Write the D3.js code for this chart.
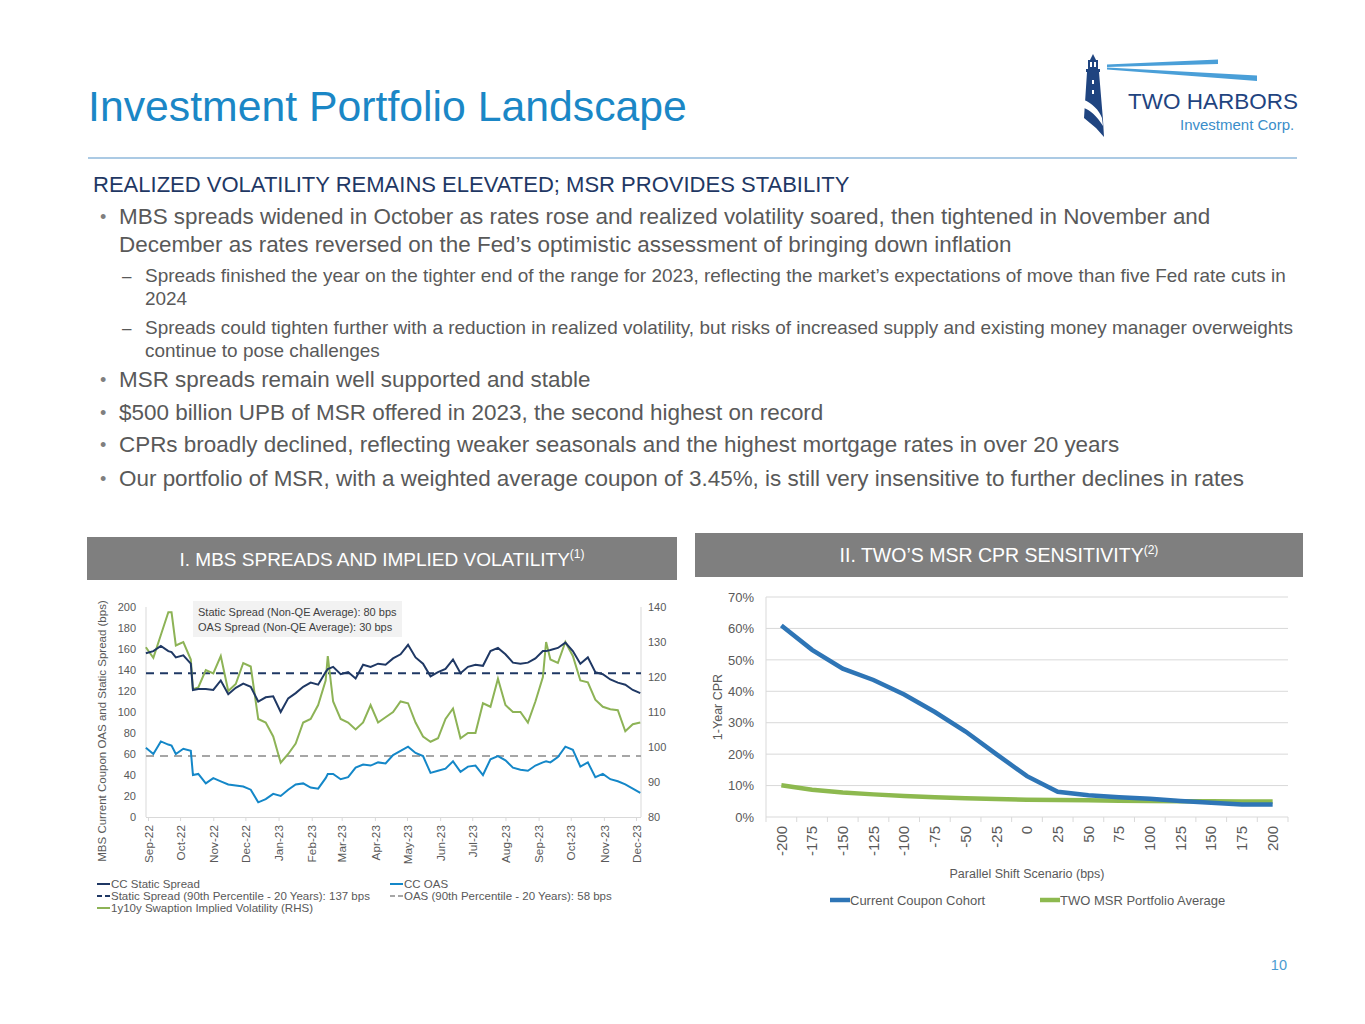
<!DOCTYPE html>
<html><head><meta charset="utf-8">
<script src="https://cdn.jsdelivr.net/npm/d3@7"></script>
<style>
html,body{margin:0;padding:0;background:#fff;}
svg{display:block;}
text{font-family:"Liberation Sans",Arial,sans-serif;}
</style></head>
<body>
<svg id="slide" width="1365" height="1024"></svg>
<script>
// ---------------- DATA ----------------
const dates = ["2022-08-30","2022-09-06","2022-09-13","2022-09-20","2022-09-23","2022-09-27","2022-10-04","2022-10-11","2022-10-13","2022-10-18","2022-10-25","2022-11-01","2022-11-08","2022-11-15","2022-11-22","2022-11-29","2022-12-06","2022-12-13","2022-12-20","2022-12-27","2023-01-03","2023-01-10","2023-01-17","2023-01-24","2023-01-31","2023-02-07","2023-02-14","2023-02-16","2023-02-21","2023-02-28","2023-03-07","2023-03-14","2023-03-21","2023-03-28","2023-04-04","2023-04-11","2023-04-18","2023-04-25","2023-05-02","2023-05-09","2023-05-16","2023-05-23","2023-05-30","2023-06-06","2023-06-13","2023-06-20","2023-06-27","2023-07-04","2023-07-11","2023-07-18","2023-07-25","2023-08-01","2023-08-08","2023-08-15","2023-08-22","2023-08-29","2023-09-05","2023-09-08","2023-09-12","2023-09-19","2023-09-26","2023-10-03","2023-10-10","2023-10-17","2023-10-24","2023-10-31","2023-11-07","2023-11-14","2023-11-21","2023-11-28","2023-12-05"];
const ccStaticSpread = [156,158,163,158,157,152,154,146,121,122,122,121,130,117,123,127,124,110,114,115,100,113,118,124,128,126,138,141,143,136,138,132,145,143,146,145,151,155,164,152,146,134,138,141,150,137,143,145,144,158,161,155,147,146,147,151,158,158,159,161,166,158,146,152,138,136,131,128,126,121,118];
const ccOAS = [66,60,72,69,68,60,65,63,40,41,32,37,34,31,30,29,26,14,17,22,20,26,31,32,28,27,37,41,41,36,38,47,50,49,52,51,59,63,67,61,58,42,44,46,53,43,48,49,40,55,58,54,47,45,44,49,52,53,52,57,67,64,48,52,38,41,36,34,31,27,23];
const swaptionVol = [128.5,125.5,132,138.5,138.5,129,130,125,116.5,117,122,121,126,116,118,124,123,108,107,103,95.5,98,101,107,108,112,119,126,113,108,107,105,107,112,107,108.5,110,113,112.5,107,103,101.5,102.5,108,111,102.5,104,104,112.5,111.5,119.5,112,110,110,107,113,120,130,125,124,130,126,119,118.5,113.5,111.5,110.8,110.5,104.5,106.5,107];
const staticP90 = 137;
const oasP90 = 58;
const leftTicks = [0,20,40,60,80,100,120,140,160,180,200];
const rightTicks = [80,90,100,110,120,130,140];

const shiftScenarios = ["-200","-175","-150","-125","-100","-75","-50","-25","0","25","50","75","100","125","150","175","200"];
const currentCouponCPR = [60.9,53.2,47.2,43.6,39.0,33.4,27.2,20.0,13.0,8.0,6.9,6.3,5.8,5.1,4.5,4.0,4.0];
const msrPortfolioCPR = [10.1,8.7,7.8,7.2,6.7,6.3,6.0,5.7,5.5,5.4,5.3,5.2,5.1,5.0,5.0,4.9,4.9];
const cprTicks = [0,10,20,30,40,50,60,70];

// ---------------- SLIDE ----------------
const svg = d3.select("#slide");
const BLUE_T = "#1B87C6", NAVY = "#1F3864", GREY_T = "#595959";

// fit a group of texts so that a reference line spans the wanted width
function fitGroup(sel, refNode, width){
  const w = refNode.getComputedTextLength();
  const k = width / w;
  sel.each(function(){
    const s = parseFloat(d3.select(this).attr("font-size"));
    d3.select(this).attr("font-size", (s*k).toFixed(2));
  });
}

// logo
const logo = svg.append("g");
logo.append("path").attr("d","M1107,64.5 L1218,59.5 L1218,64 L1107,67 Z").attr("fill","#4A9FD8");
logo.append("path").attr("d","M1107,67.5 L1257,75.5 L1257,81 L1107,69.5 Z").attr("fill","#4A9FD8");
logo.append("path").attr("d","M1093,54 L1096,60 L1090,60 Z").attr("fill","#1F4480");
logo.append("rect").attr("x",1088).attr("y",60).attr("width",10).attr("height",9).attr("fill","#1F4480");
logo.append("rect").attr("x",1086).attr("y",69).attr("width",14).attr("height",3).attr("fill","#1F4480");
logo.append("path").attr("d","M1087,72 L1099,72 L1103,120 L1104,137 L1096,128 L1084,118 Z").attr("fill","#1F4480");
logo.append("path").attr("d","M1084,100 C1092,103 1099,110 1102,118 L1103,126 C1097,116 1090,110 1084,108 Z").attr("fill","#fff");
logo.append("rect").attr("x",1090).attr("y",62).attr("width",2).attr("height",5).attr("fill","#fff");
logo.append("rect").attr("x",1094).attr("y",62).attr("width",2).attr("height",5).attr("fill","#fff");
logo.append("rect").attr("x",1092).attr("y",80).attr("width",2).attr("height",4).attr("fill","#fff");
logo.append("rect").attr("x",1092).attr("y",90).attr("width",2).attr("height",4).attr("fill","#fff");
logo.append("text").attr("x",1128).attr("y",109).attr("font-family","Lato").attr("font-size",22.5).attr("fill","#1F4480").text("TWO HARBORS");
logo.append("text").attr("x",1180).attr("y",130).attr("font-family","Lato").attr("font-size",15).attr("fill","#3A8DC9").text("Investment Corp.");

// title
const title = svg.append("text").attr("x",88).attr("y",121).attr("font-size",40).attr("fill",BLUE_T).text("Investment Portfolio Landscape");
fitGroup(title, title.node(), 599);
svg.append("line").attr("x1",88).attr("x2",1297).attr("y1",158).attr("y2",158).attr("stroke","#8FB8DB").attr("stroke-width",1.5);

const sub = svg.append("text").attr("x",93).attr("y",192).attr("font-size",20).attr("fill",NAVY).text("REALIZED VOLATILITY REMAINS ELEVATED; MSR PROVIDES STABILITY");
fitGroup(sub, sub.node(), 757);

const mainLines = [
  {t:"MBS spreads widened in October as rates rose and realized volatility soared, then tightened in November and", y:224, bullet:true},
  {t:"December as rates reversed on the Fed’s optimistic assessment of bringing down inflation", y:252},
  {t:"MSR spreads remain well supported and stable", y:387, bullet:true},
  {t:"$500 billion UPB of MSR offered in 2023, the second highest on record", y:420, bullet:true},
  {t:"CPRs broadly declined, reflecting weaker seasonals and the highest mortgage rates in over 20 years", y:452, bullet:true},
  {t:"Our portfolio of MSR, with a weighted average coupon of 3.45%, is still very insensitive to further declines in rates", y:486, bullet:true}
];
const subLines = [
  {t:"Spreads finished the year on the tighter end of the range for 2023, reflecting the market’s expectations of move than five Fed rate cuts in", y:282, dash:true},
  {t:"2024", y:305},
  {t:"Spreads could tighten further with a reduction in realized volatility, but risks of increased supply and existing money manager overweights", y:334, dash:true},
  {t:"continue to pose challenges", y:357}
];
const mainSel = svg.append("g").selectAll("text").data(mainLines).join("text")
  .attr("x",119).attr("y",d=>d.y).attr("font-size",20).attr("fill",GREY_T).text(d=>d.t);
fitGroup(mainSel, mainSel.nodes()[0], 1092);
svg.append("g").selectAll("text").data(mainLines.filter(d=>d.bullet)).join("text")
  .attr("x",100).attr("y",d=>d.y-1).attr("font-size",18).attr("fill","#7F7F7F").text("•");
const subSel = svg.append("g").selectAll("text").data(subLines).join("text")
  .attr("x",145).attr("y",d=>d.y).attr("font-size",16).attr("fill",GREY_T).text(d=>d.t);
fitGroup(subSel, subSel.nodes()[0], 1142);
svg.append("g").selectAll("text").data(subLines.filter(d=>d.dash)).join("text")
  .attr("x",122).attr("y",d=>d.y).attr("font-size",17).attr("fill",GREY_T).text("–");

// header boxes
function header(x,y,w,h,label,sup,fs){
  svg.append("rect").attr("x",x).attr("y",y).attr("width",w).attr("height",h).attr("fill","#7F7F7F");
  const t = svg.append("text").attr("x",x+w/2).attr("y",y+h/2+7).attr("text-anchor","middle").attr("font-size",fs).attr("fill","#fff");
  t.append("tspan").text(label);
  t.append("tspan").attr("dy",-8).attr("font-size",12).text(sup);
}
header(87,537,590,43,"I. MBS SPREADS AND IMPLIED VOLATILITY","(1)",19);
header(695,533,608,44,"II. TWO’S MSR CPR SENSITIVITY","(2)",19.5);

// ---------------- LEFT CHART ----------------
const parse = d3.timeParse("%Y-%m-%d");
const dts = dates.map(parse);
const xL = d3.scaleTime().domain([new Date(2022,8,1), new Date(2023,11,1)]).range([148,636]);
const yL = d3.scaleLinear().domain([0,200]).range([817,607]);
const yR = d3.scaleLinear().domain([80,140]).range([817,607]);
const L = svg.append("g");
const AX = "#D9D9D9", TXT = "#595959";

L.append("line").attr("x1",146).attr("x2",146).attr("y1",607).attr("y2",817).attr("stroke",AX);
L.append("line").attr("x1",641).attr("x2",641).attr("y1",607).attr("y2",817).attr("stroke",AX);

const xAxL = L.append("g").attr("transform","translate(0,817)")
  .call(d3.axisBottom(xL).ticks(d3.timeMonth.every(1)).tickFormat(d3.timeFormat("%b-%y")).tickSize(4).tickSizeOuter(0));
xAxL.select(".domain").attr("stroke",AX).attr("d","M146,0.5H641");
xAxL.selectAll(".tick line").attr("stroke",AX);
xAxL.selectAll(".tick text").attr("transform","rotate(-90)").attr("text-anchor","end")
  .attr("x",-8).attr("y",0).attr("dy","0.35em").attr("font-size",11.8).attr("fill",TXT).attr("font-family","Liberation Sans");

const yAxL = L.append("g").attr("transform","translate(146,0)").call(d3.axisLeft(yL).tickValues(leftTicks).tickSize(0).tickPadding(10));
yAxL.select(".domain").remove();
yAxL.selectAll("text").attr("font-size",11).attr("fill",TXT).attr("font-family","Liberation Sans");
const yAxR = L.append("g").attr("transform","translate(641,0)").call(d3.axisRight(yR).tickValues(rightTicks).tickSize(0).tickPadding(7));
yAxR.select(".domain").remove();
yAxR.selectAll("text").attr("font-size",11).attr("fill",TXT).attr("font-family","Liberation Sans");

L.append("text").attr("transform","translate(106,731) rotate(-90)").attr("text-anchor","middle").attr("font-size",11.5).attr("fill",TXT)
  .text("MBS Current Coupon OAS and Static Spread (bps)");

// reference lines
L.append("line").attr("x1",146).attr("x2",641).attr("y1",yL(staticP90)).attr("y2",yL(staticP90))
  .attr("stroke","#1F3864").attr("stroke-width",2).attr("stroke-dasharray","8,6");
L.append("line").attr("x1",146).attr("x2",641).attr("y1",yL(oasP90)).attr("y2",yL(oasP90))
  .attr("stroke","#A6A6A6").attr("stroke-width",2).attr("stroke-dasharray","8,6");

const lineS = d3.line().x((d,i)=>xL(dts[i])).y(d=>yL(d));
const lineR = d3.line().x((d,i)=>xL(dts[i])).y(d=>yR(d));
L.append("path").datum(swaptionVol).attr("d",lineR).attr("fill","none").attr("stroke","#8DB356").attr("stroke-width",2);
L.append("path").datum(ccOAS).attr("d",lineS).attr("fill","none").attr("stroke","#1487C8").attr("stroke-width",2);
L.append("path").datum(ccStaticSpread).attr("d",lineS).attr("fill","none").attr("stroke","#1F3864").attr("stroke-width",2);

// annotation
L.append("rect").attr("x",193).attr("y",601).attr("width",209).attr("height",36).attr("fill","#F2F2F2");
L.append("text").attr("x",198).attr("y",616).attr("font-size",11).attr("fill","#404040").text("Static Spread (Non-QE Average): 80 bps");
L.append("text").attr("x",198).attr("y",631).attr("font-size",11).attr("fill","#404040").text("OAS Spread (Non-QE Average): 30 bps");

// legend
const legL = [
  {x:97,y:884,c:"#1F3864",dash:null,t:"CC Static Spread"},
  {x:390,y:884,c:"#1487C8",dash:null,t:"CC OAS"},
  {x:97,y:896,c:"#1F3864",dash:"5,3",t:"Static Spread (90th Percentile - 20 Years): 137 bps"},
  {x:390,y:896,c:"#A6A6A6",dash:"5,3",t:"OAS (90th Percentile - 20 Years): 58 bps"},
  {x:97,y:908,c:"#8DB356",dash:null,t:"1y10y Swaption Implied Volatility (RHS)"}
];
const lg = L.append("g").selectAll("g").data(legL).join("g");
lg.append("line").attr("x1",d=>d.x).attr("x2",d=>d.x+13).attr("y1",d=>d.y).attr("y2",d=>d.y)
  .attr("stroke",d=>d.c).attr("stroke-width",2).attr("stroke-dasharray",d=>d.dash);
lg.append("text").attr("x",d=>d.x+14).attr("y",d=>d.y+3.5).attr("font-size",11.5).attr("fill",TXT).text(d=>d.t);

// ---------------- RIGHT CHART ----------------
const R = svg.append("g");
const xB = d3.scaleBand().domain(shiftScenarios).range([766,1288]).padding(0);
const xc = c => xB(c) + xB.bandwidth()/2;
const yC = d3.scaleLinear().domain([0,70]).range([817,597]);

R.append("g").selectAll("line").data(cprTicks.slice(1)).join("line")
  .attr("x1",766).attr("x2",1288).attr("y1",d=>yC(d)).attr("y2",d=>yC(d)).attr("stroke","#D9D9D9");
R.append("line").attr("x1",766).attr("x2",766).attr("y1",597).attr("y2",817).attr("stroke","#D9D9D9");
R.append("line").attr("x1",766).attr("x2",1288).attr("y1",817).attr("y2",817).attr("stroke","#D9D9D9");
const edges = shiftScenarios.map(c=>xB(c)).concat([xB.range()[1]]);
R.append("g").selectAll("line").data(edges).join("line")
  .attr("x1",d=>d).attr("x2",d=>d).attr("y1",817).attr("y2",822).attr("stroke","#D9D9D9");

const yAxC = R.append("g").attr("transform","translate(766,0)")
  .call(d3.axisLeft(yC).tickValues(cprTicks).tickFormat(d=>d+"%").tickSize(0).tickPadding(12));
yAxC.select(".domain").remove();
yAxC.selectAll("text").attr("font-size",13).attr("fill",TXT).attr("font-family","Liberation Sans");

const xAxC = R.append("g").attr("transform","translate(0,817)").call(d3.axisBottom(xB).tickSize(0));
xAxC.select(".domain").remove();
xAxC.selectAll("text").attr("transform","rotate(-90)").attr("text-anchor","end")
  .attr("x",-9).attr("y",0).attr("dy","0.35em").attr("font-size",15).attr("fill",TXT).attr("font-family","Liberation Sans");

R.append("text").attr("x",1027).attr("y",878).attr("text-anchor","middle").attr("font-size",12.5).attr("fill",TXT).text("Parallel Shift Scenario (bps)");
R.append("text").attr("transform","translate(722,707) rotate(-90)").attr("text-anchor","middle").attr("font-size",12.5).attr("fill",TXT).text("1-Year CPR");

const lineC = d3.line().x((d,i)=>xc(shiftScenarios[i])).y(d=>yC(d));
R.append("path").datum(msrPortfolioCPR).attr("d",lineC).attr("fill","none").attr("stroke","#8DB94F").attr("stroke-width",4.5);
R.append("path").datum(currentCouponCPR).attr("d",lineC).attr("fill","none").attr("stroke","#2E75B6").attr("stroke-width",4.5);

const legR = [{x:830,c:"#2E75B6",t:"Current Coupon Cohort"},{x:1040,c:"#8DB94F",t:"TWO MSR Portfolio Average"}];
const lr = R.append("g").selectAll("g").data(legR).join("g");
lr.append("line").attr("x1",d=>d.x).attr("x2",d=>d.x+20).attr("y1",900).attr("y2",900).attr("stroke",d=>d.c).attr("stroke-width",4.5);
lr.append("text").attr("x",d=>d.x+20).attr("y",905).attr("font-size",13).attr("fill",TXT).text(d=>d.t);

// page number
svg.append("text").attr("x",1287).attr("y",970).attr("text-anchor","end").attr("font-size",14.5).attr("fill","#4A9BD1").text("10");
</script>
</body></html>
